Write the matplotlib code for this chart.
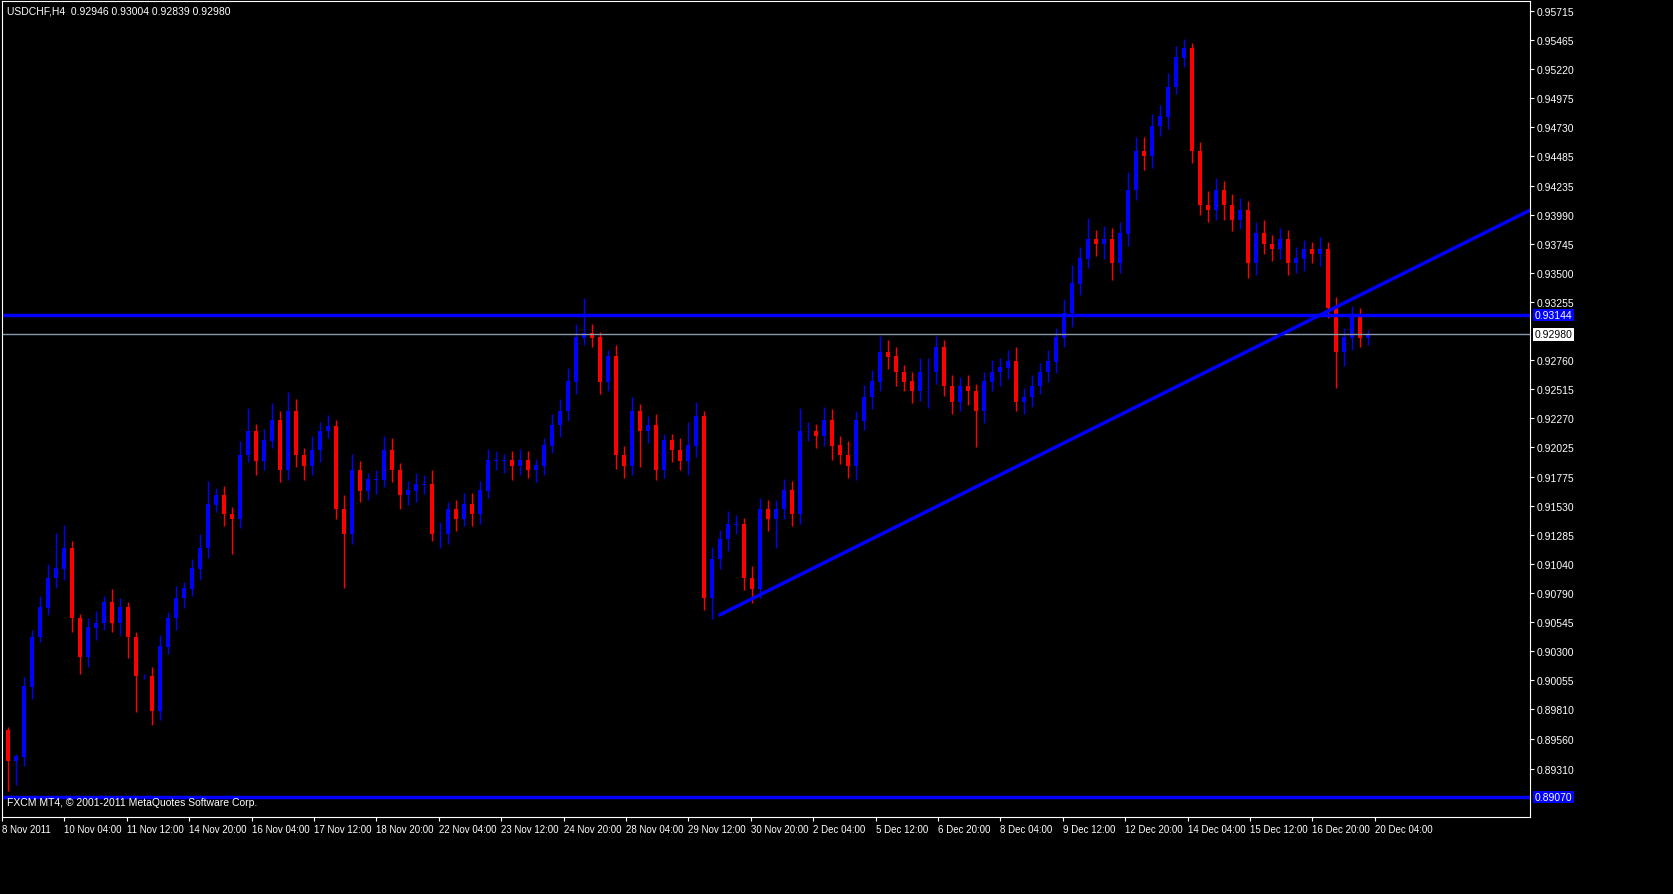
import numpy as np
import matplotlib.pyplot as plt

plt.rcParams['font.family'] = ['Liberation Sans', 'DejaVu Sans']

first_open = 0.8963
closes = [
    0.8937, 0.8941, 0.9000, 0.9042, 0.9067, 0.9092, 0.9100, 0.9117, 0.9058, 0.9025,
    0.9050, 0.9054, 0.9071, 0.9054, 0.9067, 0.9042, 0.9009, 0.9009, 0.8980, 0.9034,
    0.9058, 0.9075, 0.9083, 0.9100, 0.9117, 0.9154, 0.9162, 0.9146, 0.9142, 0.9196,
    0.9216, 0.9191, 0.9208, 0.9225, 0.9183, 0.9233, 0.9196, 0.9187, 0.9200, 0.9216,
    0.9220, 0.9150, 0.9129, 0.9183, 0.9166, 0.9175, 0.9175, 0.9200, 0.9183, 0.9162,
    0.9166, 0.9171, 0.9171, 0.9129, 0.9129, 0.9150, 0.9142, 0.9154, 0.9146, 0.9166,
    0.9191, 0.9191, 0.9191, 0.9187, 0.9191, 0.9183, 0.9187, 0.9204, 0.9221, 0.9233,
    0.9258, 0.9295, 0.9299, 0.9295, 0.9258, 0.9279, 0.9196, 0.9187, 0.9233, 0.9216,
    0.9221, 0.9183, 0.9208, 0.9200, 0.9191, 0.9204, 0.9229, 0.9075, 0.9108, 0.9125,
    0.9137, 0.9137, 0.9092, 0.9083, 0.9150, 0.9142, 0.9150, 0.9166, 0.9146, 0.9216,
    0.9216, 0.9212, 0.9225, 0.9204, 0.9196, 0.9187, 0.9225, 0.9245, 0.9258, 0.9283,
    0.9279, 0.9266, 0.9258, 0.9250, 0.9266, 0.9266, 0.9287, 0.9254, 0.9241, 0.9254,
    0.9250, 0.9233, 0.9258, 0.9266, 0.9270, 0.9275, 0.9241, 0.9245, 0.9254, 0.9266,
    0.9275, 0.9295, 0.9316, 0.9341, 0.9362, 0.9378, 0.9374, 0.9378, 0.9358, 0.9383,
    0.9420, 0.9453, 0.9449, 0.9474, 0.9482, 0.9507, 0.9532, 0.9540, 0.9453, 0.9407,
    0.9403, 0.9420, 0.9407, 0.9395, 0.9403, 0.9358, 0.9383, 0.9374, 0.9370, 0.9378,
    0.9358, 0.9362, 0.9370, 0.9366, 0.9370, 0.9320, 0.9283, 0.9295, 0.9312, 0.9295,
    0.9298,
]
# wick lengths in pips above / below the body
wick_up = [
    3, 2, 8, 6, 10, 12, 30, 20, 6, 4, 8, 10, 6, 12, 8, 5, 4, 2, 8, 10,
    5, 10, 6, 8, 12, 20, 6, 8, 6, 12, 20, 6, 10, 15, 8, 16, 10, 6, 12, 8,
    10, 6, 12, 14, 8, 6, 8, 12, 10, 6, 8, 10, 8, 12, 10, 6, 8, 10, 10, 8,
    10, 8, 6, 8, 10, 8, 6, 6, 10, 10, 12, 12, 30, 8, 5, 6, 10, 8, 12, 6,
    8, 10, 6, 6, 10, 20, 12, 4, 10, 8, 12, 8, 6, 10, 10, 8, 8, 10, 8, 20,
    8, 6, 12, 10, 8, 12, 8, 10, 10, 14, 10, 8, 6, 8, 12, 12, 10, 6, 10, 8,
    10, 6, 8, 10, 8, 10, 12, 8, 10, 8, 10, 8, 12, 16, 10, 18, 8, 12, 10, 10,
    15, 12, 12, 10, 10, 12, 10, 8, 4, 8, 12, 10, 8, 10, 10, 8, 10, 12, 8, 10,
    8, 10, 8, 6, 10, 6, 10, 8, 10, 8, 4,
]
wick_dn = [
    25, 20, 8, 10, 4, 6, 8, 10, 12, 14, 8, 10, 6, 8, 10, 18, 30, 2, 12, 8,
    6, 10, 8, 6, 10, 8, 6, 10, 30, 8, 6, 12, 8, 6, 10, 8, 10, 12, 8, 10,
    6, 8, 45, 8, 10, 8, 12, 6, 10, 12, 8, 10, 8, 6, 12, 8, 10, 6, 10, 8,
    6, 8, 10, 12, 8, 6, 10, 8, 6, 10, 8, 10, 6, 8, 10, 8, 12, 10, 8, 30,
    10, 8, 6, 10, 8, 12, 10, 10, 18, 8, 10, 8, 10, 12, 8, 10, 25, 8, 10, 8,
    8, 10, 8, 12, 8, 10, 12, 8, 10, 8, 10, 12, 8, 10, 8, 30, 10, 8, 10, 8,
    12, 30, 10, 8, 12, 10, 8, 10, 8, 6, 8, 10, 8, 12, 10, 8, 10, 12, 14, 8,
    10, 8, 12, 10, 8, 10, 6, 8, 10, 8, 10, 8, 12, 10, 8, 12, 10, 8, 10, 8,
    10, 8, 10, 8, 10, 8, 30, 12, 10, 8, 6,
]

date_labels = ["8 Nov 2011", "10 Nov 04:00", "11 Nov 12:00", "14 Nov 20:00", "16 Nov 04:00",
               "17 Nov 12:00", "18 Nov 20:00", "22 Nov 04:00", "23 Nov 12:00", "24 Nov 20:00",
               "28 Nov 04:00", "29 Nov 12:00", "30 Nov 20:00", "2 Dec 04:00", "5 Dec 12:00",
               "6 Dec 20:00", "8 Dec 04:00", "9 Dec 12:00", "12 Dec 20:00", "14 Dec 04:00",
               "15 Dec 12:00", "16 Dec 20:00", "20 Dec 04:00"]
price_ticks = [0.95715, 0.95465, 0.95220, 0.94975, 0.94730, 0.94485, 0.94235, 0.93990,
               0.93745, 0.93500, 0.93255, 0.92760, 0.92515, 0.92270, 0.92025, 0.91775,
               0.91530, 0.91285, 0.91040, 0.90790, 0.90545, 0.90300, 0.90055, 0.89810,
               0.89560, 0.89310]
resist_level = 0.93144
bottom_level = 0.89070
last_price = 0.92980
trend_start = (89, 0.9061)
trend_end = (190.25, 0.9403)

closes = np.array(closes)
opens = np.concatenate([[first_open], closes[:-1]])
highs = np.maximum(opens, closes) + np.array(wick_up) * 1e-4
lows = np.minimum(opens, closes) - np.array(wick_dn) * 1e-4
idx = np.arange(len(closes))

fig = plt.figure(figsize=(16.74, 8.95), dpi=100, facecolor='black')
ax = fig.add_axes([2 / 1674, 1 - 818 / 895, 1528 / 1674, 816 / 895], facecolor='black')
ax.set_xlim(-0.75, 190.25)
ax.set_ylim(0.8890, 0.95815 - 2 * 0.0000831)

up = closes >= opens
for col, mask in (('#0000ff', up), ('#ff0000', ~up)):
    ax.vlines(idx[mask], lows[mask], highs[mask], color=col, lw=1)
    ax.bar(idx[mask], np.abs(closes - opens)[mask] + 0.00004, bottom=np.minimum(opens, closes)[mask],
           width=0.62, color=col, linewidth=0)

ax.axhline(resist_level, color='#0000ff', lw=2.5)
ax.axhline(bottom_level, color='#0000ff', lw=2.5)
ax.axhline(last_price, color='#8899aa', lw=1)
ax.plot([trend_start[0], trend_end[0]], [trend_start[1], trend_end[1]], color='#0000ff', lw=2.5)

for s in ax.spines.values():
    s.set_color('white')
ax.yaxis.tick_right()
ax.set_yticks(price_ticks)
ax.set_yticklabels([f"{p:.5f}" for p in price_ticks])
# time labels sit every 62.4 px on the reference axis
ax.set_xticks((np.arange(len(date_labels)) * 62.4 - 6) / 8)
ax.set_xticklabels(date_labels, ha='left')
ax.tick_params(colors='white', labelsize=7.5, length=3, pad=2)
ax.tick_params(axis='x', labelsize=7)

ax.text(1.003, resist_level, f"{resist_level:.5f}", transform=ax.get_yaxis_transform(), color='white',
        fontsize=7.5, va='center', bbox=dict(facecolor='#0000ff', edgecolor='none', pad=1))
ax.text(1.003, last_price, f"{last_price:.5f}", transform=ax.get_yaxis_transform(), color='black',
        fontsize=7.5, va='center', bbox=dict(facecolor='white', edgecolor='none', pad=1))
ax.text(1.003, bottom_level, f"{bottom_level:.5f}", transform=ax.get_yaxis_transform(), color='white',
        fontsize=7.5, va='center', bbox=dict(facecolor='#0000ff', edgecolor='none', pad=1))

ax.text(0.003, 0.995, "USDCHF,H4  0.92946 0.93004 0.92839 0.92980", transform=ax.transAxes,
        color='white', fontsize=7.5, va='top')
ax.text(0.003, 0.012, "FXCM MT4, \u00a9 2001-2011 MetaQuotes Software Corp.", transform=ax.transAxes,
        color='white', fontsize=7.5, va='bottom')

fig.savefig('out.png', dpi=100, facecolor='black')
